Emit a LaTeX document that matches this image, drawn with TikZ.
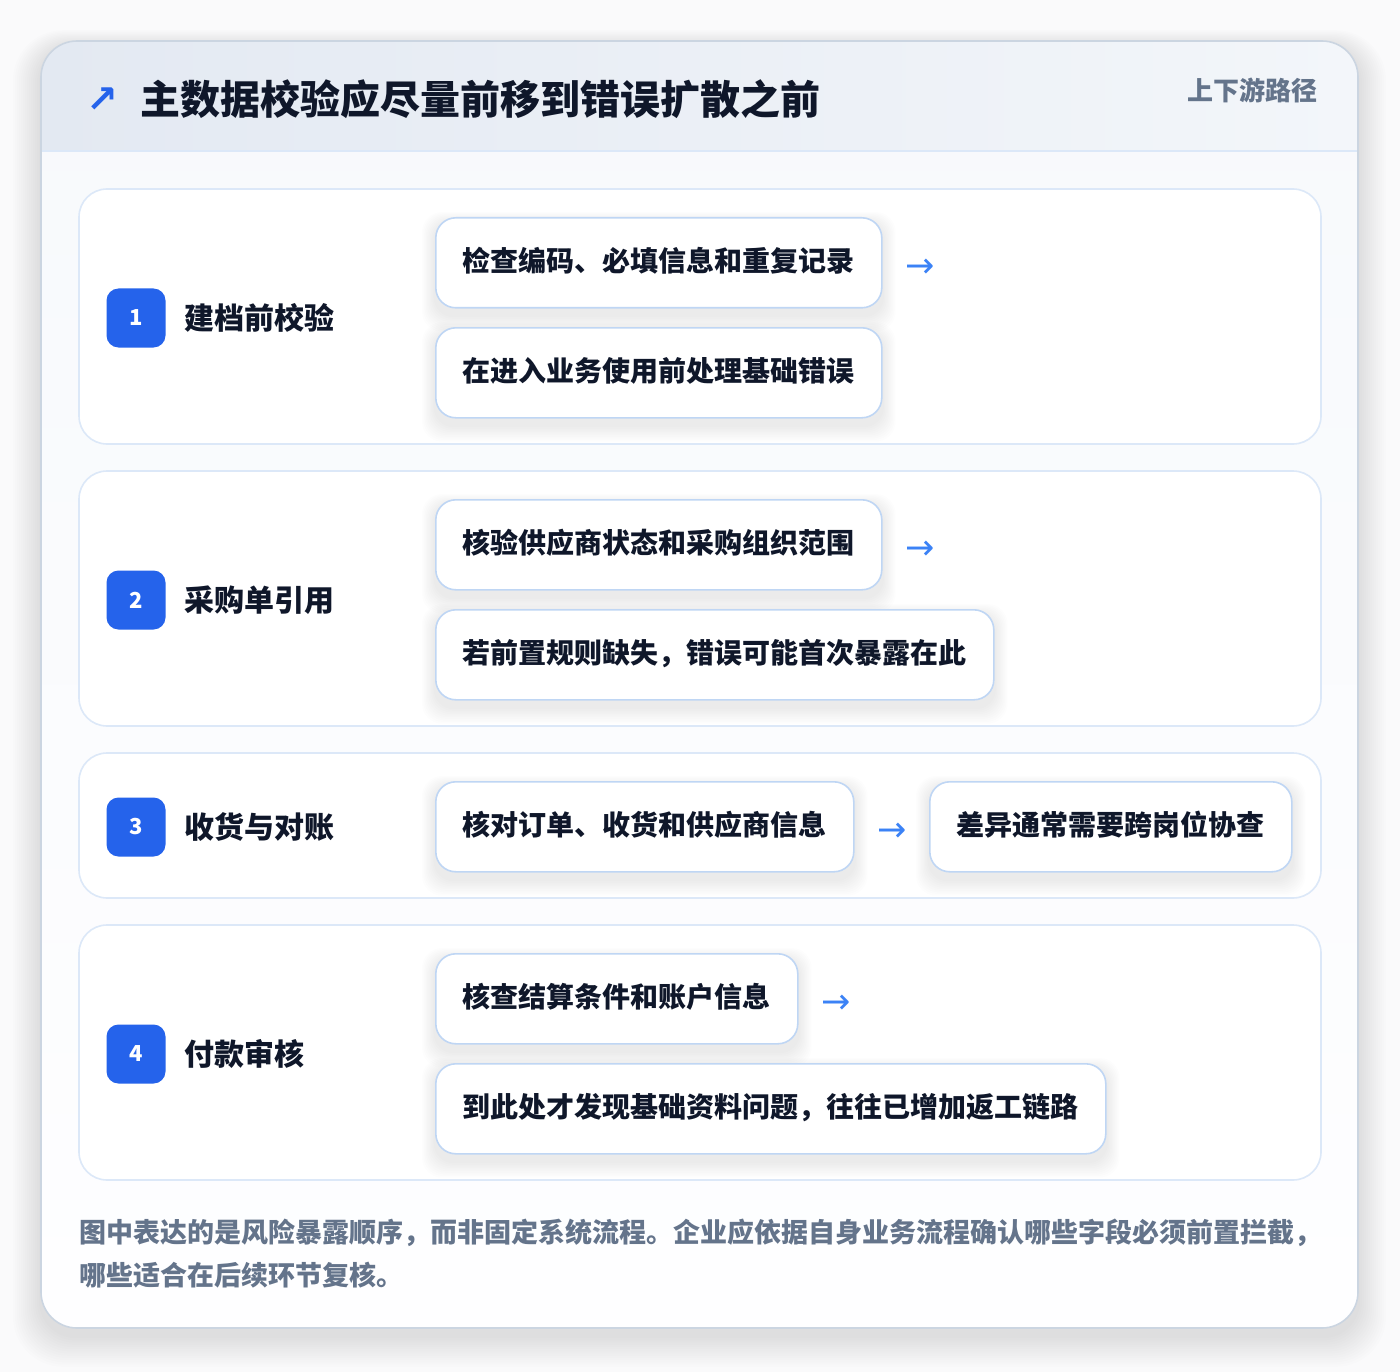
\documentclass[tikz,border=0pt]{standalone}
\usepackage{fontspec}
\setmainfont{Noto Sans CJK SC}
\newfontfamily\djv{DejaVu Sans}
\definecolor{ink}{HTML}{0F172A}
\definecolor{muted}{HTML}{64748B}
\definecolor{badgeblue}{HTML}{2563EB}
\definecolor{arrowblue}{HTML}{3B82F6}
\definecolor{panelline}{HTML}{DCE8F8}
\definecolor{boxline}{HTML}{BFD6F4}
\definecolor{cardline}{HTML}{CBD5E1}
\definecolor{pagebg}{HTML}{FAFAFB}
\definecolor{cardtop}{HTML}{F7F9FC}
\definecolor{cardbot}{HTML}{FEFEFF}
\definecolor{headL}{HTML}{E3E9F2}
\definecolor{headR}{HTML}{F3F6FA}
\definecolor{shadowgray}{HTML}{1E293B}
\pgfdeclarelayer{back}
\pgfdeclarelayer{shade}
\pgfsetlayers{back,shade,main}
\tikzset{
  x=1pt, y=-1pt,
  panelbox/.style={draw=panelline, line width=1.6pt, fill=white, rounded corners=28pt},
  stepbadge/.style={fill=badgeblue, rounded corners=12pt, minimum width=59pt, minimum height=59pt,
    text=white, font=\bfseries\fontsize{22}{22}\selectfont, inner sep=0pt},
  steplabel/.style={anchor=west, text=ink, font=\bfseries\fontsize{30}{30}\selectfont, inner sep=0pt},
  itembox/.style={draw=boxline, line width=1.6pt, fill=white, rounded corners=20pt,
    anchor=north west, minimum height=90pt, inner xsep=27pt, inner ysep=0pt,
    text=ink, font=\bfseries\fontsize{28}{28}\selectfont, text height=23pt, text depth=5pt},
  flowarrow/.style={text=arrowblue, font=\djv\fontsize{35}{35}\selectfont, inner sep=0pt},
  footnote/.style={anchor=west, text=muted, font=\bfseries\fontsize{27}{27}\selectfont, inner sep=0pt},
}
% soft shadow under a named node
\newcommand\boxshadow[1]{%
  \begin{pgfonlayer}{shade}
  \foreach \k in {1,...,10}{%
    \fill[shadowgray, opacity=0.008, rounded corners=20pt]
      ([xshift=-\k*1.3pt, yshift=-6pt+\k*1.1pt]#1.north west)
      rectangle ([xshift=\k*1.3pt, yshift=-7pt-\k*1.6pt]#1.south east);
  }
  \end{pgfonlayer}}
\begin{document}
\begin{tikzpicture}
\useasboundingbox (0,0) rectangle (1400,1372);
\begin{pgfonlayer}{back}
\fill[pagebg] (0,0) rectangle (1400,1372);
% card shadow
\foreach \k in {1,...,14}{%
  \fill[shadowgray, opacity=0.006, rounded corners=36pt+\k*1pt]
    (41-\k*2, 41-\k*1.2+6) rectangle (1358+\k*2, 1328+\k*2.2+8);
}
% card
\shade[top color=cardtop, bottom color=cardbot, rounded corners=36pt] (41,41) rectangle (1358,1328);
\begin{scope}
  \clip[rounded corners=36pt] (41,41) rectangle (1358,1328);
  \shade[left color=headL, right color=headR] (41,41) rectangle (1358,151);
\end{scope}
\draw[panelline, line width=1.5pt] (41,151) -- (1358,151);
\draw[cardline, line width=1.6pt, rounded corners=36pt] (41,41) rectangle (1358,1328);
% panels
\path[panelbox] (79,189) rectangle (1321,444);
\path[panelbox] (79,471) rectangle (1321,726);
\path[panelbox] (79,753) rectangle (1321,898);
\path[panelbox] (79,925) rectangle (1321,1180);
\end{pgfonlayer}
% header
\node[text=badgeblue, font=\djv\bfseries\fontsize{38}{38}\selectfont, inner sep=0pt] (icon) at (102,100) {↗};
\node[anchor=west, text=ink, font=\bfseries\fontsize{40}{40}\selectfont, inner sep=0pt] (title) at (140,99) {主数据校验应尽量前移到错误扩散之前};
\node[anchor=east, text=muted, font=\bfseries\fontsize{26}{26}\selectfont, inner sep=0pt] (tag) at (1318,90) {上下游路径};
% step 1
\node[stepbadge] (b1) at (136,318) {1};
\node[steplabel] (l1) at (184,318) {建档前校验};
\node[itembox] (s1a) at (435,217) {检查编码、必填信息和重复记录};
\node[itembox] (s1b) at (435,327) {在进入业务使用前处理基础错误};
\node[flowarrow, anchor=west] (a1) at ([xshift=23pt, yshift=-5pt]s1a.east) {→};
% step 2
\node[stepbadge] (b2) at (136,600) {2};
\node[steplabel] (l2) at (184,600) {采购单引用};
\node[itembox] (s2a) at (435,499) {核验供应商状态和采购组织范围};
\node[itembox] (s2b) at (435,609) {若前置规则缺失，错误可能首次暴露在此};
\node[flowarrow, anchor=west] (a2) at ([xshift=23pt, yshift=-5pt]s2a.east) {→};
% step 3
\node[stepbadge] (b3) at (136,827) {3};
\node[steplabel] (l3) at (184,827) {收货与对账};
\node[itembox] (s3a) at (435,781) {核对订单、收货和供应商信息};
\node[flowarrow, anchor=west] (a3) at ([xshift=23pt, yshift=-5pt]s3a.east) {→};
\node[itembox] (s3b) at (929,781) {差异通常需要跨岗位协查};
% step 4
\node[stepbadge] (b4) at (136,1054) {4};
\node[steplabel] (l4) at (184,1054) {付款审核};
\node[itembox] (s4a) at (435,953) {核查结算条件和账户信息};
\node[itembox] (s4b) at (435,1063) {到此处才发现基础资料问题，往往已增加返工链路};
\node[flowarrow, anchor=west] (a4) at ([xshift=23pt, yshift=-5pt]s4a.east) {→};
\boxshadow{s1a}\boxshadow{s1b}\boxshadow{s2a}\boxshadow{s2b}
\boxshadow{s3a}\boxshadow{s3b}\boxshadow{s4a}\boxshadow{s4b}
% footer
\node[footnote] (f1) at (79,1233) {图中表达的是风险暴露顺序，而非固定系统流程。企业应依据自身业务流程确认哪些字段必须前置拦截，};
\node[footnote] (f2) at (79,1275) {哪些适合在后续环节复核。};
\end{tikzpicture}
\end{document}
